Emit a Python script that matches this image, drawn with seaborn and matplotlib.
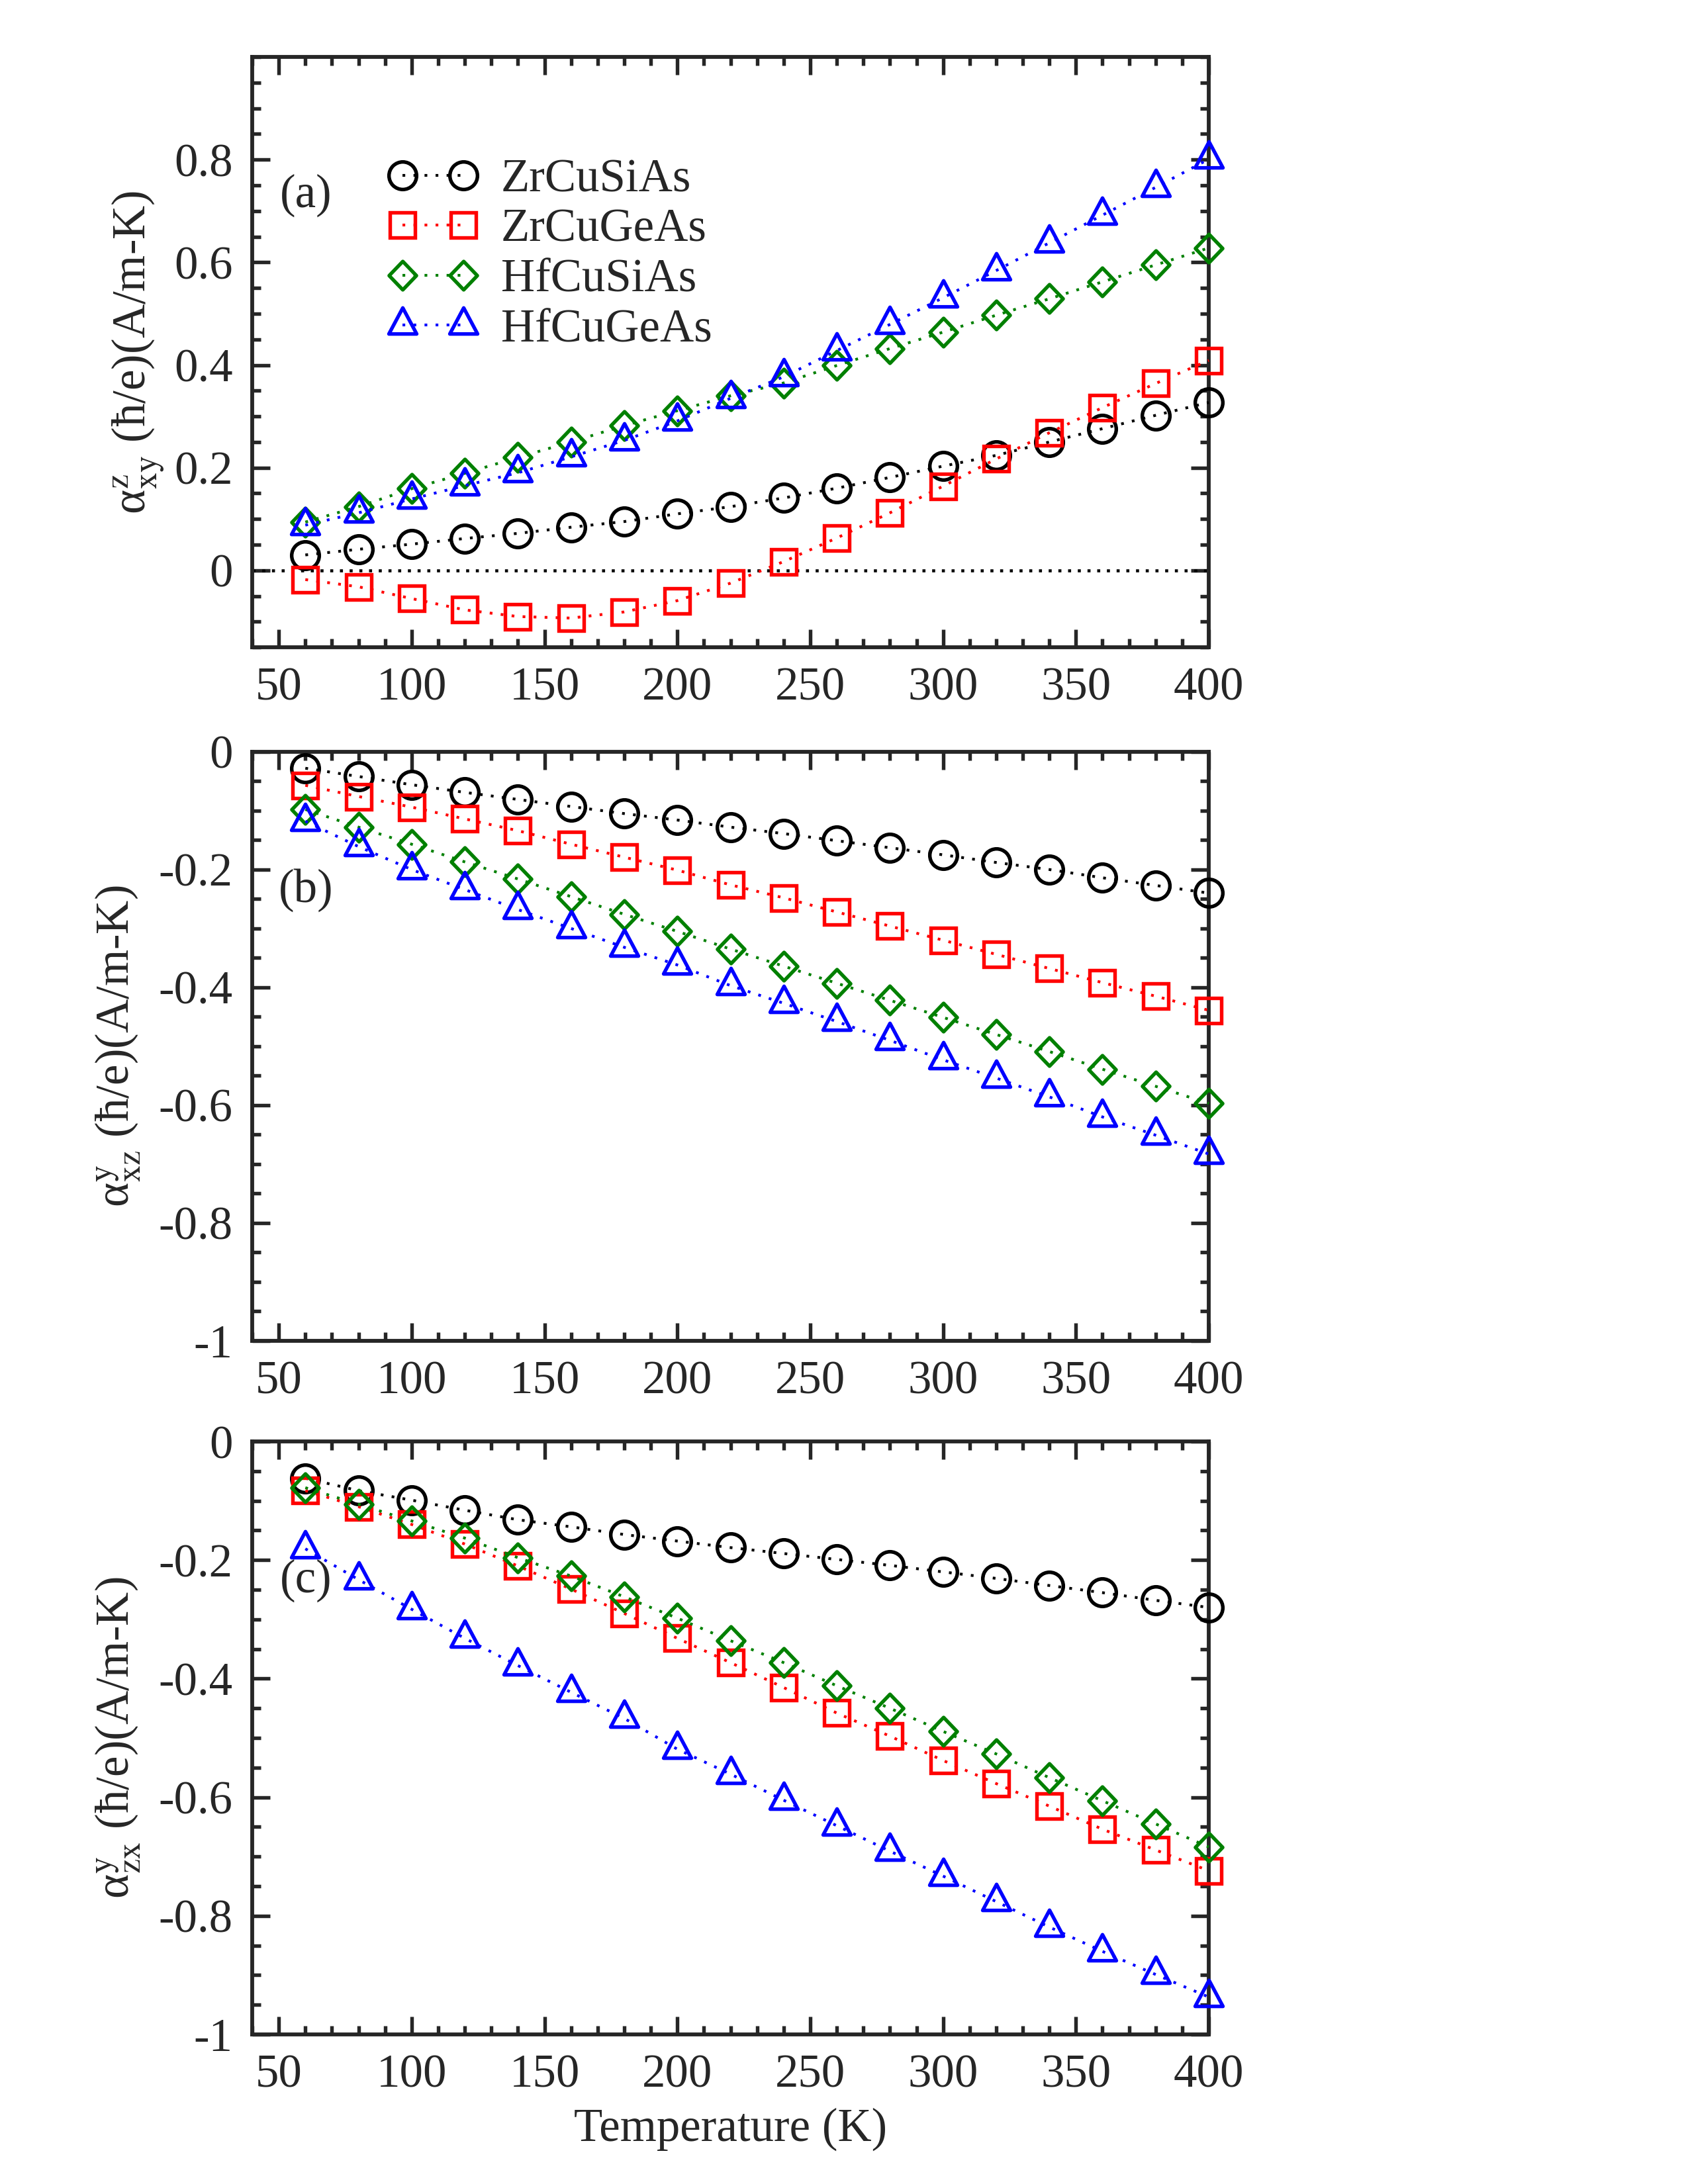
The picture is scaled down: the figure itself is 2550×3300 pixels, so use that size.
import matplotlib
matplotlib.use("Agg")
import matplotlib.pyplot as plt
from matplotlib.path import Path
from matplotlib.ticker import MultipleLocator, FixedLocator, FuncFormatter
import seaborn as sns

# ---- data ----
temps = [60, 80, 100, 120, 140, 160, 180, 200, 220, 240, 260, 280, 300, 320, 340, 360, 380, 400]
compounds = ['ZrCuSiAs', 'ZrCuGeAs', 'HfCuSiAs', 'HfCuGeAs']
colors = ['black', 'red', 'green', 'blue']

# (a) alpha^z_xy
zrcusias_a = [0.030, 0.041, 0.051, 0.062, 0.072, 0.084, 0.095, 0.110, 0.124, 0.141, 0.160, 0.181, 0.203, 0.224, 0.250, 0.276, 0.302, 0.327]
zrcugeas_a = [-0.018, -0.032, -0.055, -0.077, -0.090, -0.093, -0.081, -0.059, -0.025, 0.017, 0.063, 0.112, 0.164, 0.217, 0.268, 0.317, 0.364, 0.409]
hfcusias_a = [0.094, 0.124, 0.159, 0.189, 0.220, 0.250, 0.282, 0.311, 0.340, 0.365, 0.399, 0.432, 0.464, 0.497, 0.529, 0.562, 0.595, 0.628]
hfcugeas_a = [0.088, 0.112, 0.139, 0.165, 0.190, 0.221, 0.253, 0.291, 0.335, 0.377, 0.428, 0.479, 0.531, 0.584, 0.638, 0.692, 0.746, 0.801]

# (b) alpha^y_xz
zrcusias_b = [-0.028, -0.042, -0.056, -0.069, -0.081, -0.093, -0.105, -0.116, -0.128, -0.139, -0.151, -0.163, -0.175, -0.188, -0.200, -0.214, -0.227, -0.240]
zrcugeas_b = [-0.057, -0.076, -0.094, -0.114, -0.134, -0.157, -0.179, -0.201, -0.226, -0.248, -0.272, -0.296, -0.320, -0.344, -0.368, -0.392, -0.415, -0.439]
hfcusias_b = [-0.098, -0.128, -0.157, -0.187, -0.216, -0.246, -0.276, -0.305, -0.335, -0.364, -0.393, -0.422, -0.451, -0.480, -0.509, -0.539, -0.568, -0.597]
hfcugeas_b = [-0.118, -0.161, -0.200, -0.234, -0.268, -0.300, -0.332, -0.362, -0.397, -0.427, -0.458, -0.490, -0.523, -0.554, -0.586, -0.620, -0.651, -0.683]

# (c) alpha^y_zx
zrcusias_c = [-0.062, -0.083, -0.099, -0.116, -0.132, -0.144, -0.157, -0.168, -0.179, -0.189, -0.199, -0.209, -0.220, -0.231, -0.243, -0.255, -0.268, -0.280]
zrcugeas_c = [-0.083, -0.110, -0.140, -0.173, -0.210, -0.249, -0.290, -0.332, -0.373, -0.415, -0.458, -0.497, -0.538, -0.577, -0.615, -0.654, -0.689, -0.724]
hfcusias_c = [-0.078, -0.106, -0.134, -0.163, -0.196, -0.227, -0.262, -0.298, -0.336, -0.373, -0.412, -0.450, -0.489, -0.527, -0.567, -0.606, -0.645, -0.684]
hfcugeas_c = [-0.181, -0.233, -0.283, -0.332, -0.378, -0.423, -0.467, -0.519, -0.561, -0.605, -0.648, -0.691, -0.733, -0.776, -0.819, -0.860, -0.899, -0.937]

panels = [
    ('(a)', r'α$^{\rm z}_{\rm xy}$ (ħ/e)(A/m-K)', [zrcusias_a, zrcugeas_a, hfcusias_a, hfcugeas_a], 3),
    ('(b)', r'α$^{\rm y}_{\rm xz}$ (ħ/e)(A/m-K)', [zrcusias_b, zrcugeas_b, hfcusias_b, hfcugeas_b], 6),
    ('(c)', r'α$^{\rm y}_{\rm zx}$ (ħ/e)(A/m-K)', [zrcusias_c, zrcugeas_c, hfcusias_c, hfcugeas_c], 6),
]

sns.set_style('ticks')
plt.rcParams['font.family'] = ['Liberation Serif', 'DejaVu Serif']
plt.rcParams['mathtext.fontset'] = 'stix'
plt.rcParams['axes.unicode_minus'] = False

# xmgrace-like symbols, centred on the data point
tri = Path([(0, 1), (-0.8, -0.5), (0.8, -0.5), (0, 1)], closed=True)
dia = Path([(0, 1), (-0.96, 0), (0, -1), (0.96, 0), (0, 1)], closed=True)
markers = ['o', 's', dia, tri]
msizes = [10.0, 9.0, 10.3, 12.6]

fig = plt.figure(figsize=(8.5, 11), dpi=300)
boxes = [[0.1494, 0.7036, 0.5667, 0.2703],
         [0.1494, 0.3861, 0.5667, 0.2697],
         [0.1494, 0.0685, 0.5667, 0.2715]]

fmt = FuncFormatter(lambda v, p: '0' if abs(v) < 1e-9 else '%g' % round(v, 2))

for i, (tag, ylab, series, lpad) in enumerate(panels):
    ax = fig.add_axes(boxes[i])
    if i == 0:
        ax.axhline(0, color='black', lw=1.1, ls=(0, (1, 2.2)), zorder=1)
    for name, col, mk, ms, vals in zip(compounds, colors, markers, msizes, series):
        sns.lineplot(x=temps, y=vals, ax=ax, color=col, lw=1.0,
                     linestyle=(0, (1, 3)), marker=mk, markersize=ms,
                     markerfacecolor='none', markeredgecolor=col,
                     markeredgewidth=1.3, label=name, errorbar=None,
                     clip_on=False, zorder=3)
    ax.set_xlim(40, 400)
    if i == 0:
        ax.set_ylim(-0.15, 1.0)
        ax.yaxis.set_major_locator(FixedLocator([0, 0.2, 0.4, 0.6, 0.8]))
    else:
        ax.set_ylim(-1, 0)
        ax.yaxis.set_major_locator(FixedLocator([0, -0.2, -0.4, -0.6, -0.8, -1]))
    ax.yaxis.set_minor_locator(MultipleLocator(0.05))
    ax.xaxis.set_major_locator(MultipleLocator(50))
    ax.xaxis.set_minor_locator(MultipleLocator(10))
    ax.yaxis.set_major_formatter(fmt)
    ax.tick_params(which='both', direction='in', top=True, right=True,
                   width=1.3, labelsize=17, pad=7)
    ax.tick_params(which='major', length=6.5)
    ax.tick_params(which='minor', length=3.2)
    for s in ax.spines.values():
        s.set_linewidth(1.4)
    ax.set_ylabel(ylab, fontsize=17, labelpad=lpad)
    ax.set_xlabel('')
    ax.text(0.056, 0.765, tag, transform=ax.transAxes,
            fontsize=17, ha='center', va='center')
    if i == 0:
        ax.legend(loc='upper left', bbox_to_anchor=(0.123, 0.86), frameon=False,
                  fontsize=17, numpoints=2, handlelength=1.9, handletextpad=0.5,
                  labelspacing=0.15, borderaxespad=0)
    else:
        leg = ax.get_legend()
        if leg is not None:
            leg.remove()
    if i == 2:
        ax.set_xlabel('Temperature (K)', fontsize=17, labelpad=4)

fig.savefig('out.png', dpi=300)
